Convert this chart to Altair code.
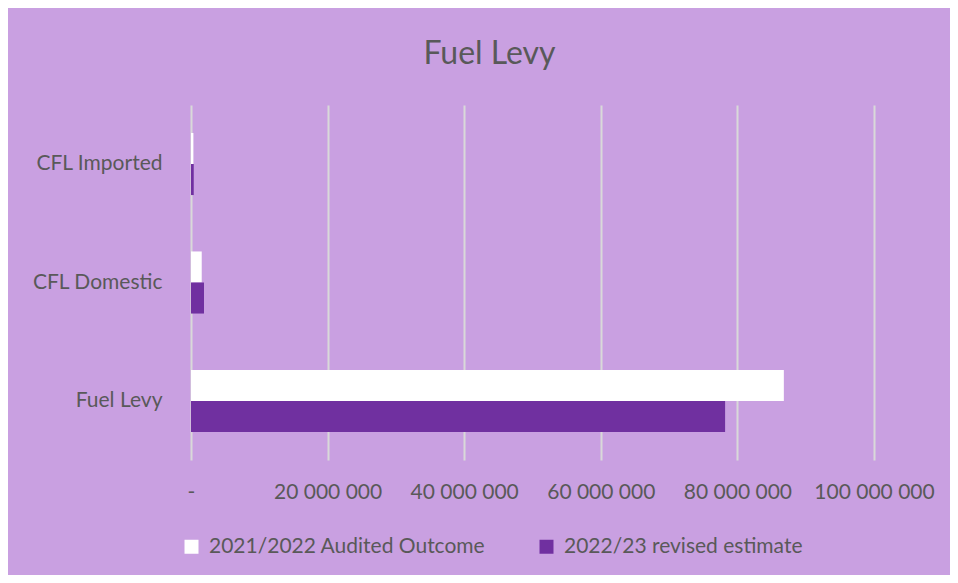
import altair as alt
import pandas as pd

categories = ["CFL Imported", "CFL Domestic", "Fuel Levy"]
series = ["2021/2022 Audited Outcome", "2022/23 revised estimate"]
audited_2021 = [350000, 1570000, 86800000]
revised_2022 = [400000, 1900000, 78200000]
x_ticks = [0, 20000000, 40000000, 60000000, 80000000, 100000000]

rows = []
for c, a, r in zip(categories, audited_2021, revised_2022):
    rows.append({"category": c, "series": series[0], "value": a})
    rows.append({"category": c, "series": series[1], "value": r})
df = pd.DataFrame(rows)

GREY = "#595959"
FONT = "Lato"

chart = (
    alt.Chart(df)
    .mark_bar()
    .encode(
        y=alt.Y(
            "category:N",
            sort=categories,
            title=None,
            scale=alt.Scale(paddingInner=0.476, paddingOuter=0.236),
            axis=alt.Axis(
                domain=False, ticks=False, grid=False,
                labelFont=FONT, labelFontSize=21, labelColor=GREY,
                labelPadding=29,
            ),
        ),
        yOffset=alt.YOffset("series:N", sort=series),
        x=alt.X(
            "value:Q",
            title=None,
            scale=alt.Scale(domain=[0, 100000000], nice=False),
            axis=alt.Axis(
                values=x_ticks, domain=False, ticks=False, grid=True,
                gridColor="#D9D9D9", gridWidth=2,
                labelFont=FONT, labelFontSize=21, labelColor=GREY,
                labelPadding=21, labelOverlap=False, labelFlush=False,
                labelExpr="datum.value == 0 ? '-' : replace(format(datum.value, ','), /,/g, ' ')",
            ),
        ),
        color=alt.Color(
            "series:N",
            sort=series,
            scale=alt.Scale(domain=series, range=["#FFFFFF", "#7030A0"]),
            legend=alt.Legend(
                title=None, orient="none", direction="horizontal",
                legendX=-10, legendY=431,
                symbolType="square", symbolSize=196, symbolStrokeWidth=0,
                labelFont=FONT, labelFontSize=21, labelColor=GREY,
                labelLimit=400, columnPadding=50, labelOffset=7,
            ),
        ),
    )
    .properties(
        width=683,
        height=355,
        title=alt.TitleParams(
            "Fuel Levy", font=FONT, fontSize=32, fontWeight="normal",
            color=GREY, anchor="middle", dx=-43, offset=9,
            baseline="alphabetic",
        ),
        background="#C9A0E1",
        padding={"left": 183, "top": 97, "right": 76, "bottom": 115},
        autosize=alt.AutoSizeParams(type="none"),
    )
    .configure_view(stroke=None)
)

chart.save("out.html", embed_options={"renderer": "svg", "actions": False})
